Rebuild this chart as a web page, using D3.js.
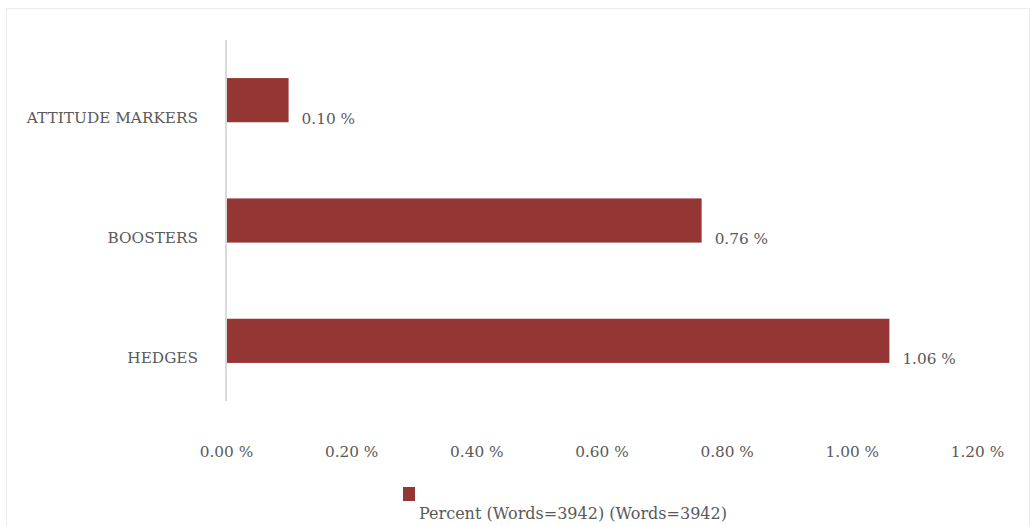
<!DOCTYPE html>
<html>
<head>
<meta charset="utf-8">
<script src="https://cdn.jsdelivr.net/npm/d3@7"></script>
<style>
  html, body { margin: 0; padding: 0; background: #fff; }
  svg { display: block; }
  text { font-family: "DejaVu Serif", "Liberation Serif", serif; fill: #595959; }
</style>
</head>
<body>
<svg id="chart" width="1032" height="526"></svg>
<script>
// Share of each metadiscourse category (percent of 3942 words)
const categories = ["ATTITUDE MARKERS", "BOOSTERS", "HEDGES"];
const percentValues = [0.10, 0.76, 1.06];
const tickValues = [0, 0.2, 0.4, 0.6, 0.8, 1.0, 1.2];
const seriesName = "Percent (Words=3942) (Words=3942)";

const svg = d3.select("#chart");
const barColor = "#943634";
const fontSize = 15.3;

// outer chart frame
svg.append("rect")
  .attr("x", 6.5).attr("y", 8.5)
  .attr("width", 1023).attr("height", 530)
  .attr("fill", "#fff").attr("stroke", "#ececec");

const x = d3.scaleLinear().domain([0, 1.2]).range([226, 977]);
const y = d3.scaleBand().domain(categories).range([40, 401]).paddingInner(0.633).paddingOuter(0.3165);

// bars
svg.selectAll("rect.bar")
  .data(categories)
  .join("rect")
  .attr("class", "bar")
  .attr("x", x(0))
  .attr("y", d => y(d))
  .attr("width", (d, i) => x(percentValues[i]) - x(0))
  .attr("height", y.bandwidth())
  .attr("fill", barColor);

// value labels
svg.selectAll("text.val")
  .data(categories)
  .join("text")
  .attr("class", "val")
  .attr("x", (d, i) => x(percentValues[i]) + 13)
  .attr("y", d => y(d) + y.bandwidth() / 2 + 18)
  .attr("dy", "0.35em")
  .attr("font-size", fontSize)
  .text((d, i) => percentValues[i].toFixed(2) + " %");

// category axis
const yAxis = svg.append("g")
  .attr("transform", `translate(${x(0)},0)`)
  .call(d3.axisLeft(y).tickSize(0).tickPadding(28));
yAxis.select(".domain").attr("stroke", "#d9d9d9").attr("stroke-width", 2)
  .attr("d", "M0,40V401");
yAxis.selectAll(".tick text")
  .attr("font-size", fontSize)
  .attr("font-family", "DejaVu Serif, Liberation Serif, serif")
  .attr("fill", "#595959")
  .attr("dy", "0.35em")
  .attr("transform", "translate(0,17)");

// value axis (labels only)
const xAxis = svg.append("g")
  .attr("transform", "translate(0,452)")
  .call(d3.axisBottom(x).tickValues(tickValues).tickSize(0).tickPadding(0)
    .tickFormat(d => d.toFixed(2) + " %"));
xAxis.select(".domain").remove();
xAxis.selectAll(".tick text")
  .attr("font-size", fontSize)
  .attr("font-family", "DejaVu Serif, Liberation Serif, serif")
  .attr("fill", "#595959")
  .attr("y", 0)
  .attr("dy", "0.35em");

// legend
const legend = svg.append("g");
legend.append("rect")
  .attr("x", 403).attr("y", 487).attr("width", 12).attr("height", 14)
  .attr("fill", barColor);
legend.append("text")
  .attr("x", 419).attr("y", 519)
  .attr("font-size", 16)
  .text(seriesName);
</script>
</body>
</html>
